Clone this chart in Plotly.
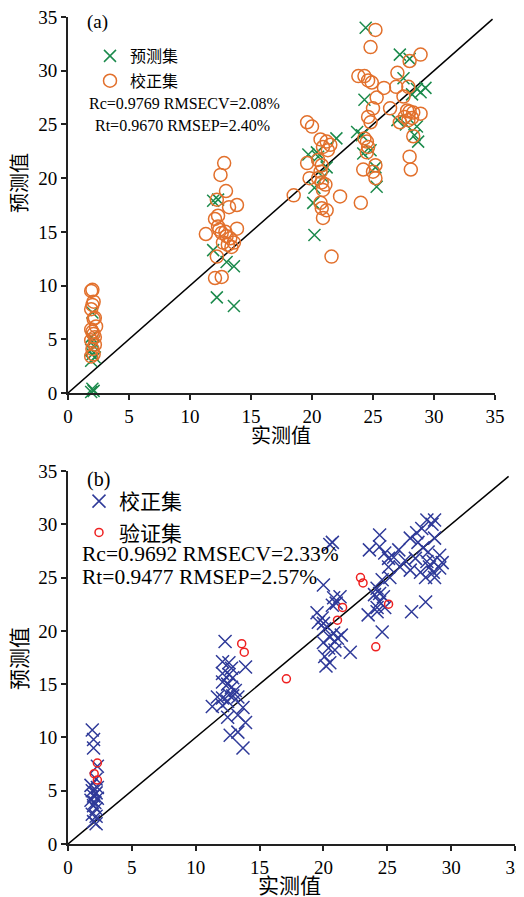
import plotly.graph_objects as go

# page body adds an 8px margin; figure sized so that it fills the 524x897 window
OFF = 8
W, H = 524 - OFF, 897 - OFF

# ---------------- Panel (a) data ----------------
a_pred_x = [2.0, 1.9, 2.0, 2.1, 1.9, 2.0, 2.2, 1.9, 2.0, 2.1, 1.9,
            11.9, 12.3, 11.9, 13.0, 13.6, 12.2, 13.6,
            24.4, 22.0, 19.7, 20.4, 20.5, 21.2, 20.9, 20.2, 20.1, 20.2, 23.7, 24.1, 24.3, 24.8, 24.2, 25.2, 25.3,
            27.2, 28.0, 27.5, 28.6, 28.9, 29.3, 28.2, 27.0, 28.6, 28.4, 28.7, 27.7]
a_pred_y = [7.5, 5.2, 4.8, 4.4, 4.0, 3.6, 3.3, 3.0, 0.4, 0.2, 0.1,
            17.9, 18.0, 13.3, 12.2, 11.8, 8.9, 8.1,
            34.0, 23.7, 22.2, 22.4, 22.0, 21.0, 20.1, 19.1, 17.7, 14.7, 24.3, 24.0, 27.3, 22.6, 22.3, 21.0, 19.2,
            31.5, 31.1, 29.3, 28.3, 28.0, 28.4, 27.8, 25.4, 24.8, 24.0, 23.4, 25.0]

a_cal_x = [2.0, 1.9, 2.1, 2.0, 1.9, 2.2, 2.1, 2.3, 1.9, 2.0, 2.1, 2.2, 1.9, 2.2, 2.0, 2.1, 1.9,
           12.8, 12.5, 12.95, 13.2, 13.85, 12.2, 12.05, 12.3, 11.3, 12.3, 12.6, 13.85, 12.9, 13.3, 13.6, 12.7,
           13.1, 12.2, 13.4, 12.05, 12.6, 12.4, 13.0,
           19.6, 20.0, 20.7, 21.2, 21.5, 20.9, 21.3, 19.6, 20.5, 20.8, 20.7, 20.5, 20.8, 21.1, 20.9, 19.8,
           18.5, 20.7, 20.8, 21.2, 20.9, 22.3, 24.0, 21.6,
           25.2, 24.8, 23.8, 24.3, 24.6, 24.9, 25.3, 25.0, 24.6, 24.8, 24.3, 24.5, 24.6, 24.5, 25.2, 25.0,
           24.2, 25.2, 25.9, 26.4,
           28.9, 28.0, 27.0, 26.9, 27.9, 27.5, 27.8, 28.0, 28.3, 27.6, 27.9, 27.2, 28.9, 28.2, 28.3, 28.0, 28.1]
a_cal_y = [9.6, 9.5, 8.5, 8.2, 7.8, 7.0, 6.9, 6.2, 5.9, 5.7, 5.5, 5.2, 4.9, 4.5, 4.1, 3.6, 3.4,
           21.4, 20.3, 18.8, 17.3, 17.5, 18.0, 16.2, 16.5, 14.8, 15.5, 14.9, 15.3, 15.0, 14.4, 14.0, 14.0,
           13.8, 12.7, 13.6, 10.7, 10.8, 15.2, 14.6,
           25.2, 24.8, 23.6, 23.4, 23.1, 22.9, 22.6, 21.4, 21.7, 21.2, 20.6, 20.0, 19.6, 19.4, 18.9, 20.0,
           18.4, 17.7, 17.2, 17.0, 16.3, 18.3, 17.7, 12.7,
           33.8, 32.2, 29.5, 29.5, 29.1, 28.9, 27.5, 26.5, 25.7, 25.2, 23.7, 23.4, 22.9, 22.4, 21.2, 20.6,
           20.8, 20.0, 28.4, 26.5,
           31.5, 30.9, 29.8, 28.5, 28.5, 27.6, 26.3, 26.2, 26.1, 25.7, 25.4, 25.2, 26.0, 25.6, 23.9, 22.0, 20.8]

a_line = [0, 34.8]

# ---------------- Panel (b) data ----------------
b_cal_x = [1.9, 2.0, 2.0, 2.3, 2.2, 1.8, 2.3, 1.9, 2.2, 2.0, 2.3, 1.8, 2.1, 2.0, 2.2, 1.9, 2.2, 2.0, 2.2,
           12.3, 12.1, 12.6, 12.8, 13.9, 12.1, 12.6, 12.9, 12.1, 12.5, 12.8, 13.1, 11.7, 12.1, 12.6, 12.9,
           13.3, 11.3, 12.1, 12.5, 13.7, 12.5, 13.3, 13.9, 12.7, 13.3, 13.7,
           20.5, 20.7, 20.0, 20.8, 21.3, 20.7, 21.0, 19.5, 19.9, 19.6, 20.0, 20.1, 20.8, 20.5, 21.1, 20.9,
           20.0, 21.4, 20.4, 22.1, 20.9, 20.1, 20.5, 20.2,
           24.4, 23.6, 24.4, 24.8, 25.1, 25.9, 25.5, 26.4, 25.1, 26.0, 25.2, 24.6, 24.2, 24.4, 24.0, 24.7,
           24.4, 24.2, 24.8, 23.5, 24.2, 24.6,
           26.9, 28.0, 28.1, 28.7, 27.7, 27.3, 26.8, 27.4, 28.7, 27.8, 28.2, 29.1, 27.2, 28.1, 28.6, 29.3,
           28.3, 26.8, 27.6, 28.6, 29.1, 28.0, 28.7, 28.5]
b_cal_y = [10.7, 9.8, 9.0, 7.3, 6.1, 5.5, 5.3, 5.0, 4.8, 4.5, 4.3, 4.1, 3.9, 3.6, 3.3, 2.8, 2.6, 2.1, 1.9,
           19.0, 17.1, 17.0, 16.5, 16.6, 16.0, 15.9, 15.6, 15.2, 15.0, 14.7, 14.4, 13.8, 13.7, 14.0, 13.9,
           13.8, 12.9, 13.0, 13.4, 12.8, 11.9, 12.1, 11.4, 10.2, 10.5, 9.0,
           28.1, 28.3, 24.3, 23.1, 23.2, 22.4, 22.6, 21.7, 21.2, 20.8, 20.7, 20.2, 19.8, 19.4, 19.3, 19.0,
           18.9, 19.6, 18.4, 18.0, 18.2, 17.6, 17.0, 16.7,
           29.0, 27.6, 27.9, 27.3, 26.8, 27.6, 26.9, 26.6, 26.0, 26.0, 25.0, 24.8, 24.0, 23.5, 23.4, 23.2,
           22.7, 22.2, 22.2, 21.5, 21.8, 19.9,
           21.8, 22.7, 30.4, 30.4, 29.6, 29.2, 28.7, 28.3, 28.7, 27.8, 27.4, 27.1, 26.8, 26.5, 26.5, 26.4,
           26.0, 25.7, 25.5, 25.5, 25.9, 25.0, 25.0, 30.0]

b_val_x = [2.3, 2.05, 2.3, 13.6, 13.8, 17.1, 22.9, 23.1, 21.5, 21.1, 25.1, 24.1]
b_val_y = [7.6, 6.6, 6.0, 18.8, 18.0, 15.5, 25.0, 24.5, 22.2, 21.0, 22.5, 18.5]

b_line = [0, 34.5]

ticks = [0, 5, 10, 15, 20, 25, 30, 35]

GREEN = "#1b8a4c"
ORANGE = "#e2702c"
BLUE = "#2f3a99"
RED = "#ee2020"
FONT = "Liberation Serif, Noto Sans CJK SC, serif"


def px_x(p):
    return (p - OFF) / W


def px_y(p):
    return 1 - (p - OFF) / H


fig = go.Figure()

# Panel (a)
fig.add_trace(go.Scatter(x=a_line, y=a_line, mode="lines", line=dict(color="black", width=1.5),
                         showlegend=False, xaxis="x", yaxis="y", hoverinfo="skip"))
fig.add_trace(go.Scatter(x=a_pred_x, y=a_pred_y, mode="markers", name="预测集",
                         marker=dict(symbol="x-thin", size=12, line=dict(color=GREEN, width=1.5), color=GREEN),
                         xaxis="x", yaxis="y", legend="legend", legendgroup="a1", cliponaxis=False))
fig.add_trace(go.Scatter(x=a_cal_x, y=a_cal_y, mode="markers", name="校正集",
                         marker=dict(symbol="circle-open", size=13, line=dict(color=ORANGE, width=1.5), color=ORANGE),
                         xaxis="x", yaxis="y", legend="legend", legendgroup="a2", cliponaxis=False))

# Panel (b)
fig.add_trace(go.Scatter(x=b_line, y=b_line, mode="lines", line=dict(color="black", width=1.5),
                         showlegend=False, xaxis="x2", yaxis="y2", hoverinfo="skip"))
fig.add_trace(go.Scatter(x=b_cal_x, y=b_cal_y, mode="markers", name="校正集",
                         marker=dict(symbol="x-thin", size=13, line=dict(color=BLUE, width=1.5), color=BLUE),
                         xaxis="x2", yaxis="y2", legend="legend2", legendgroup="b1", cliponaxis=False))
fig.add_trace(go.Scatter(x=b_val_x, y=b_val_y, mode="markers", name="验证集",
                         marker=dict(symbol="circle-open", size=8, line=dict(color=RED, width=1.5), color=RED),
                         xaxis="x2", yaxis="y2", legend="legend2", legendgroup="b2", cliponaxis=False))

axis_common = dict(range=[0, 35], tickmode="array", tickvals=ticks, ticktext=[str(t) for t in ticks],
                   showgrid=False, zeroline=False, showline=True, linecolor="#222", linewidth=2,
                   ticks="outside", ticklen=5, tickwidth=1.5, tickcolor="#222", automargin=False,
                   ticklabeloverflow="allow",
                   tickfont=dict(family=FONT, size=19, color="black"), fixedrange=True)

fig.update_layout(
    width=W, height=H,
    margin=dict(l=0, r=0, t=0, b=0, autoexpand=False),
    paper_bgcolor="white", plot_bgcolor="white",
    font=dict(family=FONT, color="black"),
    xaxis=dict(domain=[px_x(68), px_x(495)], anchor="y", **axis_common),
    yaxis=dict(domain=[px_y(393), px_y(17)], anchor="x", **axis_common),
    xaxis2=dict(domain=[px_x(68), px_x(515)], anchor="y2", **axis_common),
    yaxis2=dict(domain=[px_y(844), px_y(471)], anchor="x2", **axis_common),
    legend=dict(x=px_x(90), y=px_y(39), xanchor="left", yanchor="top",
                font=dict(family=FONT, size=16, color="black"), bgcolor="rgba(0,0,0,0)",
                tracegroupgap=1, itemsizing="trace"),
    legend2=dict(x=px_x(79), y=px_y(481), xanchor="left", yanchor="top",
                 font=dict(family=FONT, size=21, color="black"), bgcolor="rgba(0,0,0,0)",
                 tracegroupgap=1, itemsizing="trace"),
    showlegend=True,
)

ann = []
# panel labels
ann.append(dict(text="(a)", x=px_x(97), y=px_y(22), xref="paper", yref="paper", showarrow=False,
                xanchor="center", yanchor="middle", font=dict(family=FONT, size=19)))
ann.append(dict(text="(b)", x=px_x(98), y=px_y(479), xref="paper", yref="paper", showarrow=False,
                xanchor="center", yanchor="middle", font=dict(family=FONT, size=20)))
# statistics
ann.append(dict(text="Rc=0.9769 RMSECV=2.08%", x=px_x(184), y=px_y(104), xref="paper", yref="paper",
                showarrow=False, xanchor="center", yanchor="middle", font=dict(family=FONT, size=16)))
ann.append(dict(text="Rt=0.9670 RMSEP=2.40%", x=px_x(182), y=px_y(125), xref="paper", yref="paper",
                showarrow=False, xanchor="center", yanchor="middle", font=dict(family=FONT, size=16)))
ann.append(dict(text="Rc=0.9692 RMSECV=2.33%", x=px_x(80), y=px_y(554), xref="paper", yref="paper",
                showarrow=False, xanchor="left", yanchor="middle", font=dict(family=FONT, size=21.5)))
ann.append(dict(text="Rt=0.9477 RMSEP=2.57%", x=px_x(80), y=px_y(577), xref="paper", yref="paper",
                showarrow=False, xanchor="left", yanchor="middle", font=dict(family=FONT, size=21.5)))
# axis titles
ann.append(dict(text="实测值", x=px_x(281), y=px_y(436), xref="paper", yref="paper", showarrow=False,
                xanchor="center", yanchor="middle", font=dict(family=FONT, size=20)))
ann.append(dict(text="实测值", x=px_x(289), y=px_y(886), xref="paper", yref="paper", showarrow=False,
                xanchor="center", yanchor="middle", font=dict(family=FONT, size=21)))
ann.append(dict(text="预测值", x=px_x(20), y=px_y(183), xref="paper", yref="paper", showarrow=False,
                xanchor="center", yanchor="middle", textangle=-90, font=dict(family=FONT, size=20)))
ann.append(dict(text="预测值", x=px_x(20), y=px_y(659), xref="paper", yref="paper", showarrow=False,
                xanchor="center", yanchor="middle", textangle=-90, font=dict(family=FONT, size=21)))
fig.update_layout(annotations=ann)

fig.write_html("out.html")
